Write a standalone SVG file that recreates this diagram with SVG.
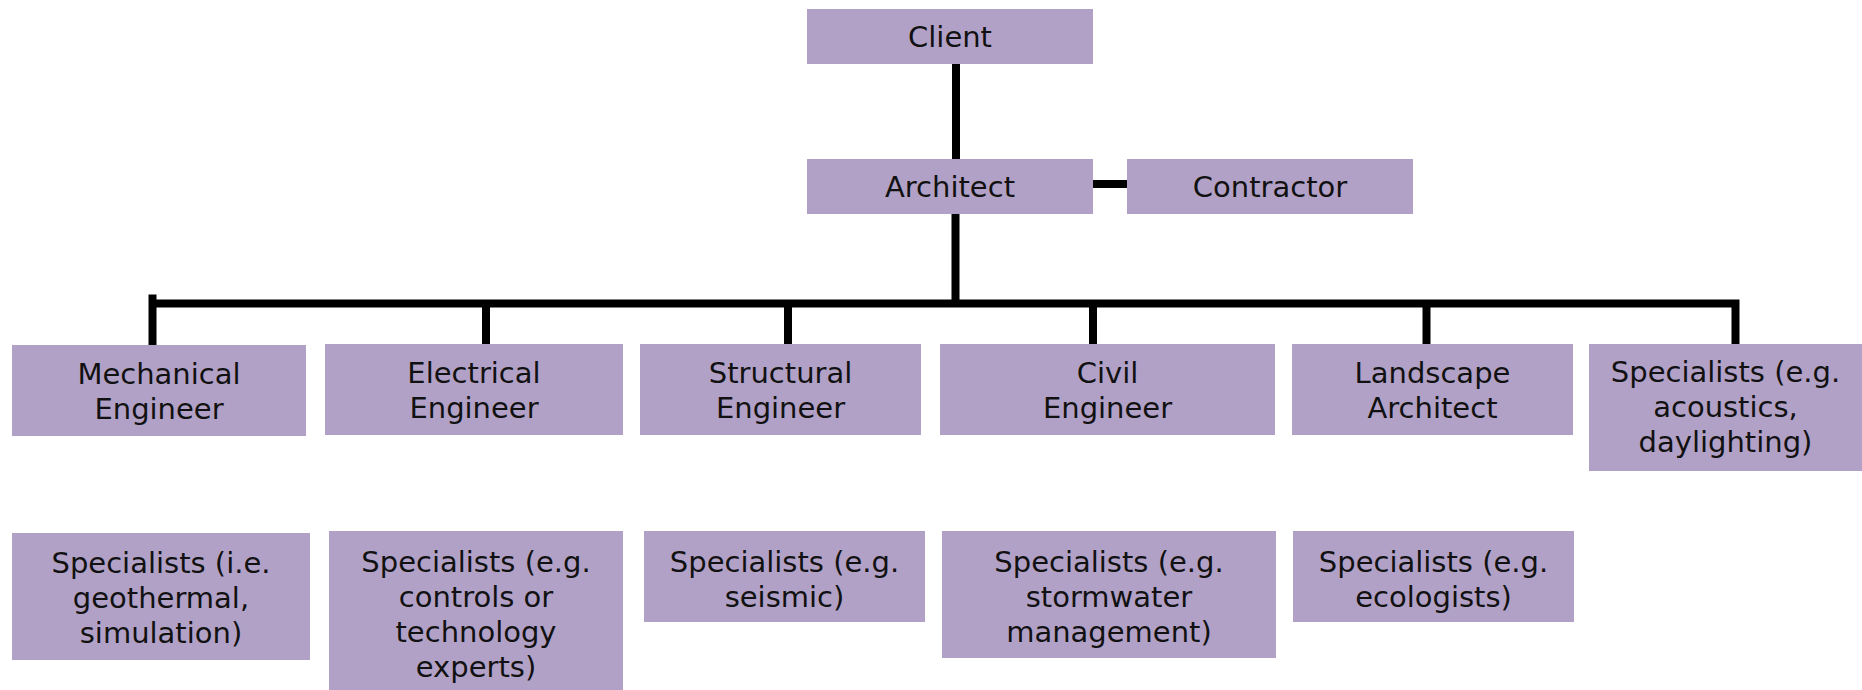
<svg xmlns="http://www.w3.org/2000/svg" width="1862" height="690" viewBox="0 0 1862 690">
  <style>
    .box { fill: #b2a1c7; }
    .lbl { font-family: "DejaVu Sans", "Liberation Sans", sans-serif; font-size: 29px; fill: #111; text-anchor: middle; }
    .wire { stroke: #000; stroke-width: 8; fill: none; stroke-linecap: butt; stroke-linejoin: miter; }
  </style>
  <rect width="1862" height="690" fill="#fff"/>

  <!-- connectors -->
  <g id="connectors" class="wire">
    <line x1="956" y1="63" x2="956" y2="160"/>
    <line x1="1092" y1="184" x2="1128" y2="184"/>
    <line x1="955.5" y1="213" x2="955.5" y2="304"/>
    <path d="M152 303.5 H1735.5 V345"/>
    <line x1="152.5" y1="294.5" x2="152.5" y2="346"/>
    <line x1="486" y1="303" x2="486" y2="345"/>
    <line x1="788" y1="303" x2="788" y2="345"/>
    <line x1="1093" y1="303" x2="1093" y2="345"/>
    <line x1="1426.5" y1="303" x2="1426.5" y2="345"/>
  </g>

  <!-- top levels -->
  <g id="client">
    <rect class="box" x="807" y="9" width="286" height="55"/>
    <text class="lbl" x="950" y="47">Client</text>
  </g>
  <g id="architect">
    <rect class="box" x="807" y="159" width="286" height="55"/>
    <text class="lbl" x="950" y="197">Architect</text>
  </g>
  <g id="contractor">
    <rect class="box" x="1127" y="159" width="286" height="55"/>
    <text class="lbl" x="1270" y="197">Contractor</text>
  </g>

  <!-- consultants -->
  <g id="mechanical">
    <rect class="box" x="12" y="345" width="294" height="91"/>
    <text class="lbl" x="159" y="384">Mechanical</text>
    <text class="lbl" x="159" y="419">Engineer</text>
  </g>
  <g id="electrical">
    <rect class="box" x="325" y="344" width="298" height="91"/>
    <text class="lbl" x="474" y="383">Electrical</text>
    <text class="lbl" x="474" y="418">Engineer</text>
  </g>
  <g id="structural">
    <rect class="box" x="640" y="344" width="281" height="91"/>
    <text class="lbl" x="780.5" y="383">Structural</text>
    <text class="lbl" x="780.5" y="418">Engineer</text>
  </g>
  <g id="civil">
    <rect class="box" x="940" y="344" width="335" height="91"/>
    <text class="lbl" x="1107.5" y="383">Civil</text>
    <text class="lbl" x="1107.5" y="418">Engineer</text>
  </g>
  <g id="landscape">
    <rect class="box" x="1292" y="344" width="281" height="91"/>
    <text class="lbl" x="1432.5" y="383">Landscape</text>
    <text class="lbl" x="1432.5" y="418">Architect</text>
  </g>
  <g id="specialists-acoustics">
    <rect class="box" x="1589" y="344" width="273" height="127"/>
    <text class="lbl" x="1725.5" y="382">Specialists (e.g.</text>
    <text class="lbl" x="1725.5" y="417">acoustics,</text>
    <text class="lbl" x="1725.5" y="452">daylighting)</text>
  </g>

  <!-- sub-specialists -->
  <g id="specialists-mechanical">
    <rect class="box" x="12" y="533" width="298" height="127"/>
    <text class="lbl" x="161" y="573">Specialists (i.e.</text>
    <text class="lbl" x="161" y="608">geothermal,</text>
    <text class="lbl" x="161" y="643">simulation)</text>
  </g>
  <g id="specialists-electrical">
    <rect class="box" x="329" y="531" width="294" height="159"/>
    <text class="lbl" x="476" y="572">Specialists (e.g.</text>
    <text class="lbl" x="476" y="607">controls or</text>
    <text class="lbl" x="476" y="642">technology</text>
    <text class="lbl" x="476" y="677">experts)</text>
  </g>
  <g id="specialists-structural">
    <rect class="box" x="644" y="531" width="281" height="91"/>
    <text class="lbl" x="784.5" y="572">Specialists (e.g.</text>
    <text class="lbl" x="784.5" y="607">seismic)</text>
  </g>
  <g id="specialists-civil">
    <rect class="box" x="942" y="531" width="334" height="127"/>
    <text class="lbl" x="1109" y="572">Specialists (e.g.</text>
    <text class="lbl" x="1109" y="607">stormwater</text>
    <text class="lbl" x="1109" y="642">management)</text>
  </g>
  <g id="specialists-landscape">
    <rect class="box" x="1293" y="531" width="281" height="91"/>
    <text class="lbl" x="1433.5" y="572">Specialists (e.g.</text>
    <text class="lbl" x="1433.5" y="607">ecologists)</text>
  </g>
</svg>
